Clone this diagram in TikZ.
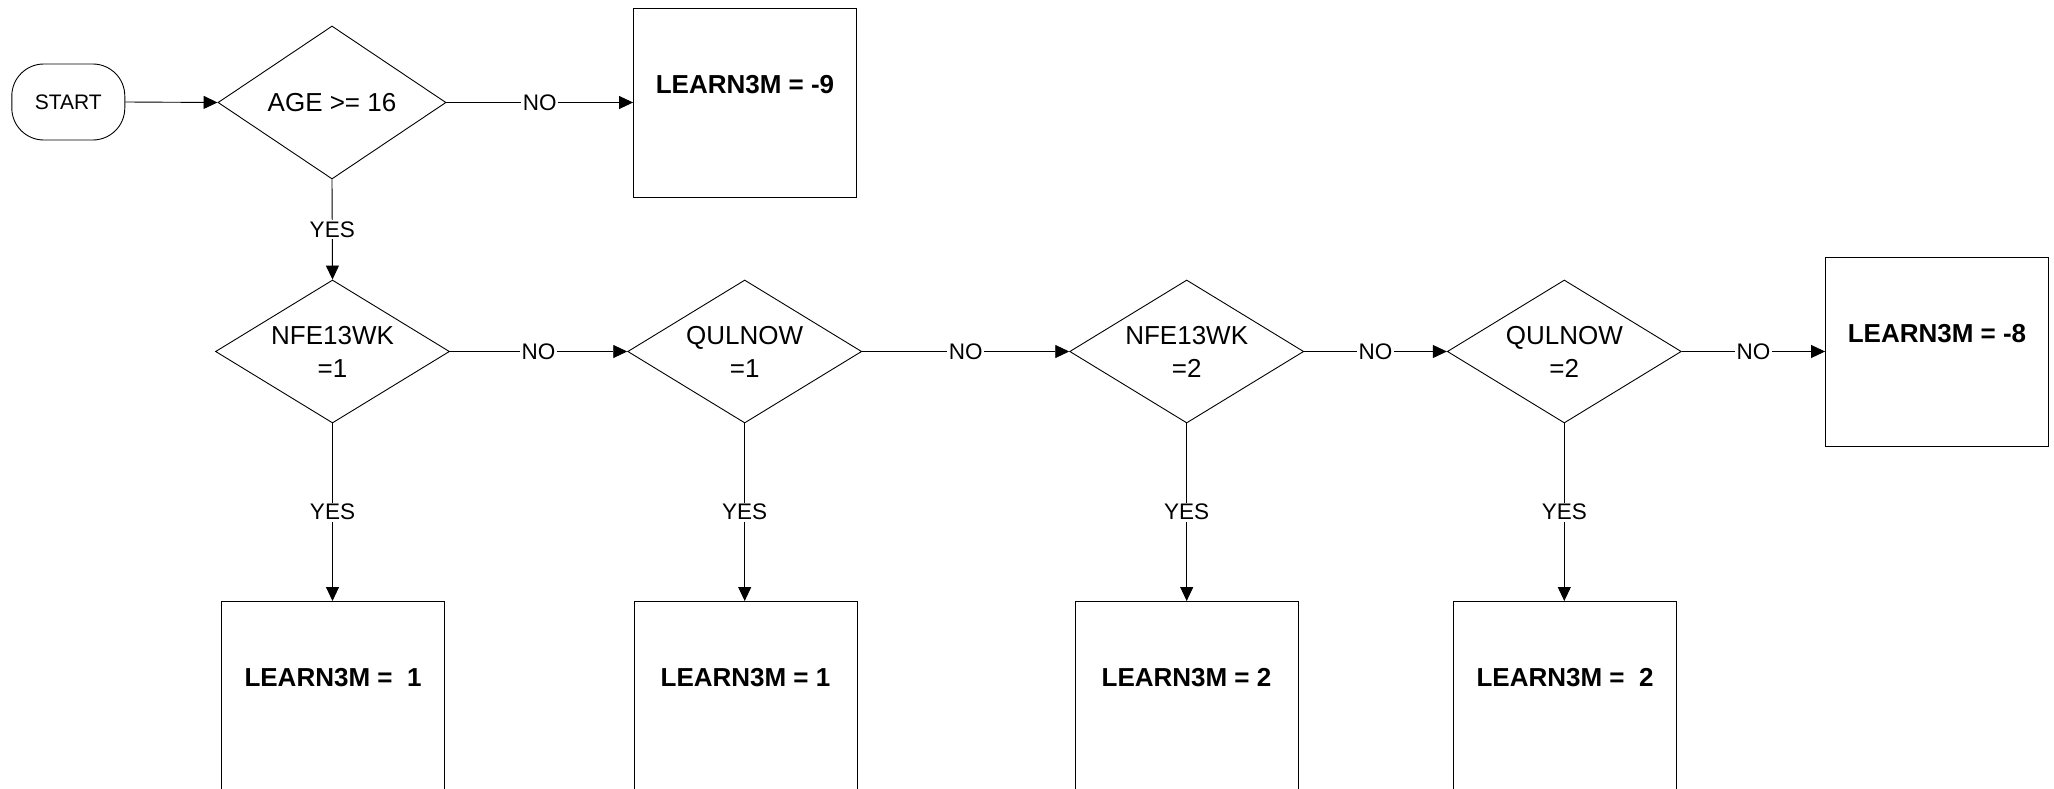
\documentclass[tikz,border=0pt]{standalone}
\usepackage{fontspec}
\setmainfont{Liberation Sans}
\usetikzlibrary{shapes.geometric,arrows.meta}
\begin{document}
\begin{tikzpicture}[x=1pt,y=-1pt,
  flow/.style={line width=0.9pt,-{Triangle[length=14pt,width=13pt]}},
  dec/.style={diamond,draw,line width=0.9pt,inner sep=0pt,aspect=1.64,minimum width=234pt,minimum height=143pt,align=center,font=\fontsize{26}{33}\selectfont},
  res/.style={rectangle,draw,line width=0.9pt,minimum width=223pt,minimum height=189pt,inner sep=0pt,anchor=north},
  restxt/.style={inner sep=0pt,font=\fontsize{26}{31}\selectfont\bfseries},
  lab/.style={fill=white,inner sep=1.5pt,font=\fontsize{22.5}{27}\selectfont},
  startnode/.style={rectangle,rounded corners=32pt,draw,line width=0.9pt,minimum width=113pt,minimum height=76pt,inner sep=0pt,font=\fontsize{21}{25}\selectfont}]
\useasboundingbox (0,0) rectangle (2054,789);
\clip (0,0) rectangle (2054,789);
% row 1
\node[startnode] (start) at (68.3,102) {START};
\node[dec,aspect=1.49,minimum width=228pt,minimum height=153pt] (age) at (332,102.5) {AGE >= 16};
\node[res] (b9) at (745,8) {};
\node[restxt] (t9) at ([yshift=-77pt]b9.north) {LEARN3M = -9};
% row 2
\node[dec] (d1) at (332.5,351.5) {NFE13WK\\=1};
\node[dec] (d2) at (744.7,351.5) {QULNOW\\=1};
\node[dec] (d3) at (1186.7,351.5) {NFE13WK\\=2};
\node[dec] (d4) at (1564.3,351.5) {QULNOW\\=2};
\node[res,minimum height=189pt] (b8) at (1937,257) {};
\node[restxt] (t8) at ([yshift=-77pt]b8.north) {LEARN3M = -8};
% bottom row
\node[res,minimum height=200pt] (r1) at (333,601) {};
\node[res,minimum height=200pt] (r2) at (745.5,601) {};
\node[res,minimum height=200pt] (r3) at (1186.5,601) {};
\node[res,minimum height=200pt] (r4) at (1565,601) {};
\node[restxt] (u1) at ([yshift=-76.5pt]r1.north) {LEARN3M =\ \ 1};
\node[restxt] (u2) at ([yshift=-76.5pt]r2.north) {LEARN3M = 1};
\node[restxt] (u3) at ([yshift=-76.5pt]r3.north) {LEARN3M = 2};
\node[restxt] (u4) at ([yshift=-76.5pt]r4.north) {LEARN3M =\ \ 2};
% connectors
\draw[flow] (start.east) -- (age.west);
\draw[flow] (age.east) -- node[lab]{NO} (age.east -| b9.west);
\draw[flow] (age.south) -- node[lab]{YES} (d1.north);
\draw[flow] (d1.east) -- node[lab]{NO} (d2.west);
\draw[flow] (d2.east) -- node[lab]{NO} (d3.west);
\draw[flow] (d3.east) -- node[lab]{NO} (d4.west);
\draw[flow] (d4.east) -- node[lab]{NO} (d4.east -| b8.west);
\draw[flow] (d1.south) -- node[lab]{YES} (d1.south |- r1.north);
\draw[flow] (d2.south) -- node[lab]{YES} (d2.south |- r2.north);
\draw[flow] (d3.south) -- node[lab]{YES} (d3.south |- r3.north);
\draw[flow] (d4.south) -- node[lab]{YES} (d4.south |- r4.north);
\end{tikzpicture}
\end{document}
